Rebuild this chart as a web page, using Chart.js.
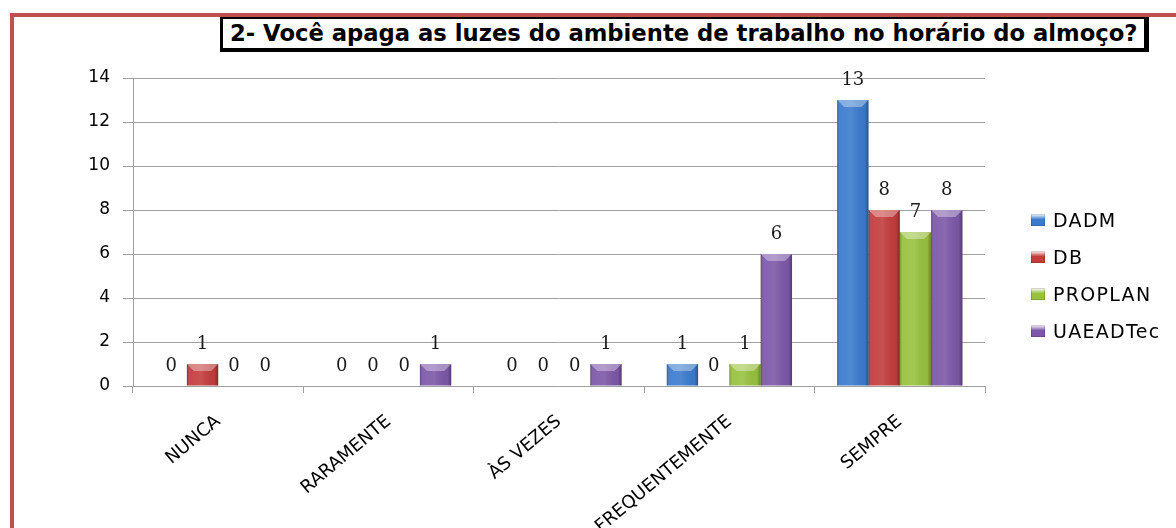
<!DOCTYPE html>
<html lang="pt">
<head>
    <meta charset="UTF-8">
    <title>2- Você apaga as luzes do ambiente de trabalho no horário do almoço?</title>
    <script src="https://cdn.jsdelivr.net/npm/chart.js@4.4.1/dist/chart.umd.min.js"></script>
    <style>
        body {
            margin: 0;
            background: #fff;
            font-family: 'DejaVu Sans', sans-serif;
        }
        .page {
            position: relative;
            width: 1176px;
            height: 528px;
            overflow: hidden;
        }
        .frame {
            position: absolute;
            left: 10px;
            top: 13px;
            right: -10px;
            bottom: -10px;
            border-top: 4px solid #c0504d;
            border-left: 4px solid #c0504d;
        }
        .chart-box {
            position: absolute;
            left: 0;
            top: 0;
            width: 1176px;
            height: 528px;
        }
        .title {
            position: absolute;
            left: 220px;
            top: 17px;
            width: 929px;
            height: 35px;
            box-sizing: border-box;
            border-style: solid;
            border-color: #000;
            border-width: 2px 5px 4px 3px;
            background: #fff;
            font-weight: bold;
            font-size: 22.7px;
            line-height: 29px;
            padding-left: 7px;
            white-space: nowrap;
            color: #000;
        }
        .legend {
            position: absolute;
            left: 1031px;
            top: 201px;
        }
        .legend-item {
            display: flex;
            align-items: center;
            height: 37px;
            font-size: 19px;
            letter-spacing: 1.3px;
            color: #000;
        }
        .legend-color {
            width: 14px;
            height: 12px;
            margin-right: 8px;
        }
    </style>
</head>
<body>
<div class="page">
    <div class="chart-box"><canvas id="chart"></canvas></div>
    <div class="frame"></div>
    <div class="title">2- Você apaga as luzes do ambiente de trabalho no horário do almoço?</div>
    <div class="legend" id="legend"></div>
</div>

<script>
    const categories = ['NUNCA', 'RARAMENTE', 'ÀS VEZES', 'FREQUENTEMENTE', 'SEMPRE'];
    const seriesNames = ['DADM', 'DB', 'PROPLAN', 'UAEADTec'];
    const dadm = [0, 0, 0, 1, 13];
    const db = [1, 0, 0, 0, 8];
    const proplan = [0, 0, 0, 1, 7];
    const uaeadtec = [0, 1, 1, 6, 8];
    const yTicks = [0, 2, 4, 6, 8, 10, 12, 14];

    const seriesValues = [dadm, db, proplan, uaeadtec];
    const colors = ['#3b7bce', '#c43c3c', '#98c23e', '#7d58a8'];

    // glossy 3D look on the bars, drawn over the library's own bar elements
    const bevelPlugin = {
        id: 'bevel',
        afterDatasetsDraw(chart) {
            const ctx = chart.ctx;
            ctx.save();
            chart.data.datasets.forEach((ds, i) => {
                chart.getDatasetMeta(i).data.forEach(bar => {
                    const p = bar.getProps(['x', 'y', 'base', 'width'], true);
                    const h = p.base - p.y;
                    if (h <= 0) return;
                    const l = p.x - p.width / 2;
                    const r = p.x + p.width / 2;
                    const g = ctx.createLinearGradient(l, 0, r, 0);
                    g.addColorStop(0, 'rgba(0,0,0,0.28)');
                    g.addColorStop(0.1, 'rgba(255,255,255,0.06)');
                    g.addColorStop(0.45, 'rgba(255,255,255,0.1)');
                    g.addColorStop(0.88, 'rgba(0,0,0,0.04)');
                    g.addColorStop(1, 'rgba(0,0,0,0.32)');
                    ctx.fillStyle = g;
                    ctx.fillRect(l, p.y, p.width, h);
                    const d = Math.min(7, h);
                    ctx.beginPath();
                    ctx.moveTo(l, p.y);
                    ctx.lineTo(r, p.y);
                    ctx.lineTo(r - d, p.y + d);
                    ctx.lineTo(l + d, p.y + d);
                    ctx.closePath();
                    ctx.fillStyle = 'rgba(255,255,255,0.35)';
                    ctx.fill();
                });
            });
            ctx.restore();
        }
    };

    // value labels above every bar (zeros included)
    const valueLabels = {
        id: 'valueLabels',
        afterDatasetsDraw(chart) {
            const ctx = chart.ctx;
            ctx.save();
            ctx.font = '18px "DejaVu Serif", serif';
            ctx.fillStyle = '#1a1a1a';
            ctx.textAlign = 'center';
            ctx.textBaseline = 'middle';
            chart.data.datasets.forEach((ds, i) => {
                chart.getDatasetMeta(i).data.forEach((bar, j) => {
                    ctx.fillText(ds.data[j], bar.x, bar.y - 20);
                });
            });
            ctx.restore();
        }
    };

    const datasets = seriesNames.map((name, i) => ({
        label: name,
        data: seriesValues[i],
        backgroundColor: colors[i],
        borderWidth: 0,
        categoryPercentage: 0.735,
        barPercentage: 1
    }));

    new Chart(document.getElementById('chart'), {
        type: 'bar',
        data: { labels: categories, datasets: datasets },
        plugins: [bevelPlugin, valueLabels],
        options: {
            responsive: true,
            maintainAspectRatio: false,
            animation: false,
            layout: { padding: { top: 78, right: 191, bottom: 0, left: 0 } },
            plugins: {
                legend: { display: false },
                tooltip: { enabled: false }
            },
            scales: {
                x: {
                    grid: {
                        drawOnChartArea: false,
                        drawTicks: true,
                        tickLength: 7,
                        color: '#a0a0a0'
                    },
                    border: { color: '#a0a0a0' },
                    ticks: {
                        color: '#000',
                        font: { family: 'DejaVu Sans', size: 18 },
                        maxRotation: 40,
                        minRotation: 40,
                        padding: 18
                    },
                    afterFit(scale) { scale.height = 142; }
                },
                y: {
                    min: 0,
                    max: 14,
                    afterBuildTicks(scale) { scale.ticks = yTicks.map(v => ({ value: v })); },
                    grid: { color: '#a0a0a0', tickLength: 10 },
                    border: { color: '#a0a0a0' },
                    ticks: {
                        color: '#000',
                        font: { family: 'DejaVu Sans', size: 17 },
                        padding: 13
                    },
                    afterFit(scale) { scale.width = 133; }
                }
            }
        }
    });

    const legend = document.getElementById('legend');
    seriesNames.forEach((name, i) => {
        const item = document.createElement('div');
        item.className = 'legend-item';
        item.innerHTML = '<div class="legend-color" style="background: linear-gradient(180deg, rgba(255,255,255,0.35) 0%, ' + colors[i] + ' 45%, ' + colors[i] + ' 100%); box-shadow: inset 0 0 0 1px rgba(0,0,0,0.15);"></div><span>' + name + '</span>';
        legend.appendChild(item);
    });
</script>
</body>
</html>
